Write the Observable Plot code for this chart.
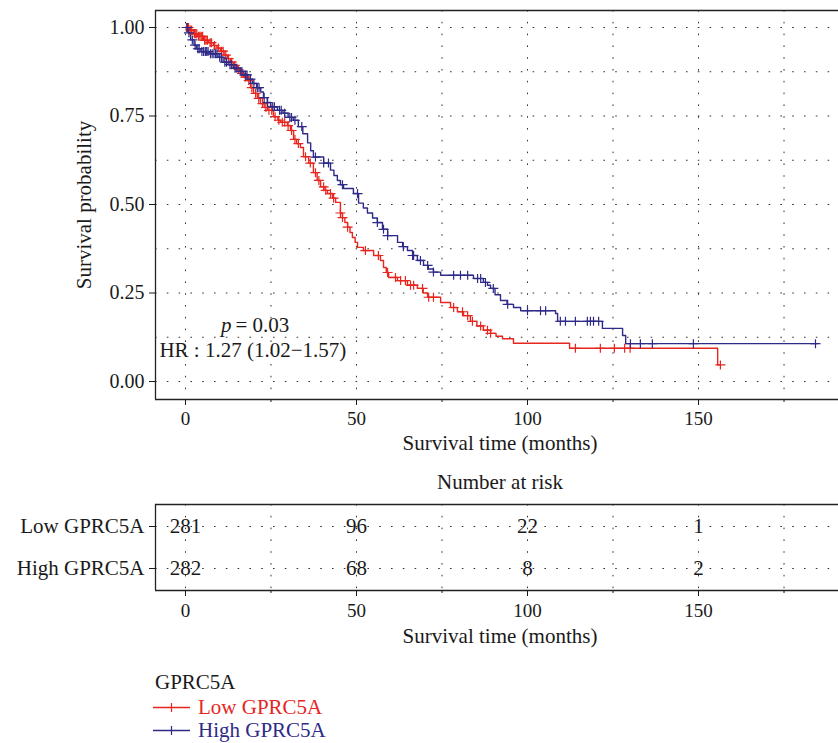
<!DOCTYPE html>
<html><head><meta charset="utf-8">
<script src="https://cdn.jsdelivr.net/npm/d3@7"></script>
<script src="https://cdn.jsdelivr.net/npm/@observablehq/plot@0.6"></script>
<style>
body{margin:0;background:#fff;font-family:"Liberation Serif",serif;}
#wrap{position:relative;width:838px;height:743px;overflow:hidden;background:#fff;}
.abs{position:absolute;white-space:nowrap;}
</style></head><body><div id="wrap"></div>
<script>
// ---- data ----
const groups = ["Low GPRC5A", "High GPRC5A"];
const colors = ["#E6261F", "#2E2A88"];

const lowTime = [0,1.2,2.3,3.5,5.3,6.8,8.2,9.2,10.2,11.3,12.3,13.2,14.0,15.1,16.1,17.0,18.1,19.0,19.9,21.0,21.9,23.0,24.0,25.7,27.0,27.8,29.8,30.7,31.6,32.5,33.6,34.5,36.0,37.4,38.5,39.5,40.5,41.5,43.0,43.9,45.3,45.9,46.6,47.4,48.1,48.8,49.6,50.3,52.0,55.0,57.0,57.9,58.7,59.4,62.0,64.9,67.8,69.5,70.8,74.6,77.5,79.5,81.3,83.3,85.2,87.1,89.2,90.8,92.7,95.9,112.3,155.6,156.4];
const lowSurv = [1.000,0.993,0.982,0.975,0.964,0.957,0.949,0.942,0.933,0.922,0.912,0.902,0.893,0.881,0.870,0.860,0.850,0.830,0.814,0.800,0.785,0.774,0.766,0.748,0.738,0.732,0.723,0.709,0.684,0.672,0.661,0.635,0.617,0.590,0.568,0.550,0.540,0.531,0.518,0.506,0.476,0.463,0.449,0.436,0.421,0.407,0.393,0.379,0.370,0.356,0.342,0.322,0.308,0.294,0.285,0.272,0.263,0.250,0.238,0.223,0.209,0.197,0.186,0.170,0.157,0.145,0.136,0.128,0.121,0.108,0.094,0.047,0.047];
const lowCensor = [0.3,0.6,0.9,1.4,1.8,2.6,3.0,3.3,3.8,4.2,4.6,5.0,5.6,6.0,6.4,7.2,7.6,8.5,9.6,10.5,11.0,11.8,12.6,13.5,14.4,15.5,16.5,17.5,18.5,19.4,20.5,21.4,22.5,23.5,24.4,25.2,26.2,27.3,28.3,29.0,30.0,31.0,32.0,33.0,35.1,36.5,38.0,39.0,40.4,41.0,42.4,43.3,45.3,45.9,47.4,52.6,56.4,59.1,61.4,62.9,64.3,65.8,66.7,69.3,71.1,72.5,78.4,81.0,82.5,83.9,86.3,88.3,89.2,114.0,121.3,125.4,128.4,130.0,156.4];

const highTime = [0,0.8,1.5,2.5,3.2,4.5,7.0,9.5,11.0,12.5,14.0,15.5,17.0,18.3,19.6,20.8,22.0,22.8,23.9,24.9,26.9,28.5,30.0,31.5,33.0,34.3,35.7,36.6,37.4,40.4,42.4,43.4,44.4,45.3,46.2,49.1,50.6,52.0,53.2,54.7,56.1,57.6,59.1,62.0,63.5,64.9,66.4,67.8,69.6,71.0,72.5,74.6,84.2,87.1,88.3,89.2,90.5,92.1,94.0,95.9,98.0,108.2,108.8,121.9,127.8,128.7,184.8];
const highSurv = [1.000,0.985,0.965,0.950,0.940,0.932,0.926,0.916,0.902,0.895,0.885,0.876,0.866,0.854,0.842,0.830,0.818,0.802,0.788,0.776,0.766,0.758,0.746,0.738,0.720,0.700,0.674,0.652,0.634,0.617,0.597,0.582,0.568,0.556,0.545,0.531,0.504,0.490,0.476,0.462,0.449,0.430,0.412,0.393,0.381,0.370,0.356,0.342,0.328,0.318,0.309,0.300,0.291,0.280,0.272,0.263,0.245,0.229,0.218,0.209,0.200,0.192,0.170,0.150,0.130,0.107,0.107];
const highCensor = [0.5,1.0,2.0,2.8,3.6,4.0,4.8,5.3,5.8,6.2,6.6,7.3,7.8,8.3,8.8,9.2,10.0,10.5,11.5,12.0,13.0,13.5,14.5,15.0,16.0,16.5,17.5,18.0,19.0,20.0,21.0,21.5,23.0,24.0,25.5,26.0,27.5,28.0,29.0,30.5,31.0,32.0,34.0,38.0,40.4,41.8,45.9,50.3,56.1,57.9,59.1,63.7,66.4,66.7,68.7,70.8,72.5,78.4,80.4,82.5,85.4,86.3,87.7,90.0,94.2,100.0,103.8,105.3,109.6,111.1,114.0,117.5,118.4,119.3,120.8,130.1,133.0,136.5,148.5,184.2];

const riskTimes = [0, 50, 100, 150];
const riskLow = [281, 96, 22, 1];
const riskHigh = [282, 68, 8, 2];

const pText = "= 0.03";
const hrText = "HR : 1.27 (1.02\u22121.57)";
const xTicks = [0, 50, 100, 150];
const xMinor = [25, 75, 125, 175];
const yTicks = [0, 0.25, 0.5, 0.75, 1];

// ---- build ----
const xDomain = [-8.77, 190.93];
const yDomain = [-0.0508, 1.048];
const font = "Liberation Serif";
const ink = "#1a1a1a";
const gridStyle = {stroke: "#333", strokeWidth: 1, strokeDasharray: "1.6,10.2"};

function survAt(times, survs, t) {
  let s = survs[0];
  for (let i = 0; i < times.length; i++) { if (times[i] <= t) s = survs[i]; else break; }
  return s;
}
const lowLine = lowTime.map((t, i) => ({t, s: lowSurv[i]}));
const highLine = highTime.map((t, i) => ({t, s: highSurv[i]}));
const lowCens = lowCensor.map(t => ({t, s: survAt(lowTime, lowSurv, t)}));
const highCens = highCensor.map(t => ({t, s: survAt(highTime, highSurv, t)}));

const plusSymbol = {draw(ctx, size) {
  const r = Math.sqrt(size / Math.PI);
  ctx.moveTo(-r, 0); ctx.lineTo(r, 0);
  ctx.moveTo(0, -r * 0.9); ctx.lineTo(0, r * 0.9);
}};

const wrap = document.getElementById("wrap");

const km = Plot.plot({
  width: 838, height: 460,
  marginLeft: 155, marginRight: 0, marginTop: 10, marginBottom: 61,
  style: {fontFamily: font, fontSize: "20px", color: ink, background: "transparent"},
  x: {domain: xDomain},
  y: {domain: yDomain},
  marks: [
    Plot.ruleY(d3.range(0, 1.0001, 0.125), gridStyle),
    Plot.ruleX(d3.range(0, 190, 25), gridStyle),
    Plot.ruleY([yDomain[0], yDomain[1]], {stroke: "#222", strokeWidth: 1.3}),
    Plot.ruleX([xDomain[0]], {stroke: "#222", strokeWidth: 1.3}),
    Plot.axisY({ticks: yTicks, tickFormat: d3.format(".2f"), tickSize: 6, tickPadding: 5, label: null, fontSize: 20}),
    Plot.axisX({ticks: xTicks, tickSize: 6, tickPadding: 6, label: null, fontSize: 19}),
    Plot.axisX({ticks: xMinor, tickSize: 3, tickFormat: () => "", label: null}),
    Plot.line(lowLine, {x: "t", y: "s", curve: "step-after", stroke: colors[0], strokeWidth: 1.4}),
    Plot.line(highLine, {x: "t", y: "s", curve: "step-after", stroke: colors[1], strokeWidth: 1.4}),
    Plot.dot(lowCens, {x: "t", y: "s", symbol: plusSymbol, r: 5, stroke: colors[0], fill: "none", strokeWidth: 1.2}),
    Plot.dot(highCens, {x: "t", y: "s", symbol: plusSymbol, r: 5, stroke: colors[1], fill: "none", strokeWidth: 1.2}),
    Plot.text(["p"], {x: 14.0, y: 0.158, textAnchor: "end", dx: -2, fontStyle: "italic", fontSize: 21, fill: ink}),
    Plot.text([pText], {x: 14.0, y: 0.158, textAnchor: "start", dx: 2, fontSize: 21, fill: ink}),
    Plot.text([hrText], {x: 19.7, y: 0.0876, textAnchor: "middle", fontSize: 21, fill: ink}),
    Plot.text(["Survival probability"], {frameAnchor: "left", rotate: -90, dx: -71, textAnchor: "middle", fontSize: 21, fill: ink}),
    Plot.text(["Survival time (months)"], {frameAnchor: "bottom", dy: 50, dx: 3, textAnchor: "middle", fontSize: 21, fill: ink})
  ]
});
km.style.position = "absolute"; km.style.left = "0px"; km.style.top = "0px";
wrap.appendChild(km);

const nar = document.createElement("div");
nar.className = "abs";
nar.style.cssText = "left:155px;width:690px;top:471px;text-align:center;font-size:21px;line-height:23px;color:" + ink;
nar.textContent = "Number at risk";
wrap.appendChild(nar);

const riskData = [];
riskTimes.forEach((t, i) => {
  riskData.push({t, row: 0, n: riskLow[i]});
  riskData.push({t, row: 1, n: riskHigh[i]});
});
const rDomain = [-0.524, 1.524];
const risk = Plot.plot({
  width: 838, height: 156,
  marginLeft: 155, marginRight: 0, marginTop: 10, marginBottom: 60,
  style: {fontFamily: font, fontSize: "20px", color: ink, background: "transparent"},
  x: {domain: xDomain},
  y: {domain: rDomain, reverse: true},
  marks: [
    Plot.ruleY([0, 1], gridStyle),
    Plot.ruleX(d3.range(0, 190, 25), gridStyle),
    Plot.ruleY(rDomain, {stroke: "#222", strokeWidth: 1.3}),
    Plot.ruleX([xDomain[0]], {stroke: "#222", strokeWidth: 1.3}),
    Plot.axisY({ticks: [0, 1], tickFormat: i => groups[i], tickSize: 6, tickPadding: 5, label: null, fontSize: 21}),
    Plot.axisX({ticks: xTicks, tickSize: 6, tickPadding: 7, label: null, fontSize: 19}),
    Plot.axisX({ticks: xMinor, tickSize: 3, tickFormat: () => "", label: null}),
    Plot.text(riskData, {x: "t", y: "row", text: "n", fontSize: 21, fill: ink}),
    Plot.text(["Survival time (months)"], {frameAnchor: "bottom", dy: 52, dx: 3, textAnchor: "middle", fontSize: 21, fill: ink})
  ]
});
risk.style.position = "absolute"; risk.style.left = "0px"; risk.style.top = "494px";
wrap.appendChild(risk);

// legend
const lt = document.createElement("div");
lt.className = "abs";
lt.style.cssText = "left:155px;top:671px;font-size:21px;line-height:23px;color:" + ink;
lt.textContent = "GPRC5A";
wrap.appendChild(lt);
groups.forEach((g, i) => {
  const row = document.createElement("div");
  row.className = "abs";
  row.style.cssText = `left:152px;top:${696 + i * 23}px;height:23px;display:flex;align-items:center;font-size:21px;line-height:23px;color:${colors[i]}`;
  row.innerHTML = `<svg width="42" height="23" style="display:block"><line x1="1" x2="38" y1="11.5" y2="11.5" stroke="${colors[i]}" stroke-width="1.4"/><line x1="19.5" x2="19.5" y1="7" y2="16" stroke="${colors[i]}" stroke-width="1.2"/></svg><span style="margin-left:4px">${g}</span>`;
  wrap.appendChild(row);
});
</script></body></html>
